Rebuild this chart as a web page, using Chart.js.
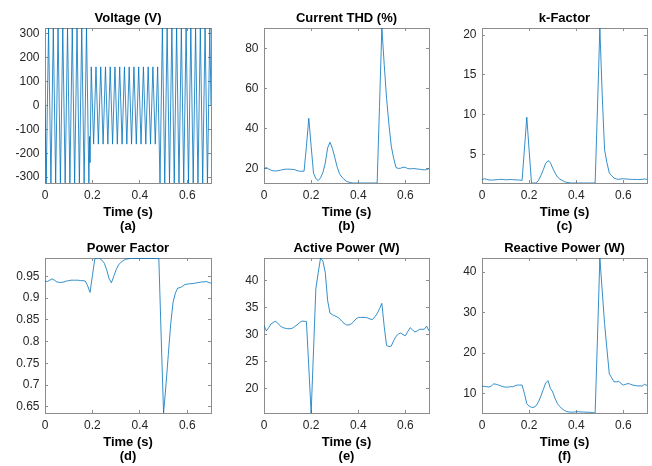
<!DOCTYPE html>
<html>
<head>
<meta charset="utf-8">
<script src="https://cdn.jsdelivr.net/npm/chart.js@4"></script>
<style>
  html, body { margin: 0; padding: 0; background: #fff; }
  #wrap { position: relative; width: 652px; height: 466px; overflow: hidden; background: #fff; }
  #wrap canvas { position: absolute; left: 0; top: 0; }
</style>
</head>
<body>
<div id="wrap"></div>
<script>
// sample times (s) for the measured quantities
const time = [
  0.00, 0.01, 0.02, 0.03, 0.04, 0.05, 0.06, 0.07, 0.08, 0.09,
  0.10, 0.11, 0.12, 0.13, 0.14, 0.15, 0.16, 0.17, 0.18, 0.19,
  0.20, 0.21, 0.22, 0.23, 0.24, 0.25, 0.26, 0.27, 0.28, 0.29,
  0.30, 0.31, 0.32, 0.33, 0.34, 0.35, 0.36, 0.37, 0.38, 0.39,
  0.40, 0.41, 0.42, 0.43, 0.44, 0.45, 0.46, 0.47, 0.48, 0.49,
  0.50, 0.51, 0.52, 0.53, 0.54, 0.55, 0.56, 0.57, 0.58, 0.59,
  0.60, 0.61, 0.62, 0.63, 0.64, 0.65, 0.66, 0.67, 0.68, 0.69,
  0.70
];

const currentThd = [
  19.8, 20.3, 19.6, 19.0, 18.7, 18.6, 18.8, 19.0, 19.3, 19.5,
  19.5, 19.5, 19.4, 19.3, 18.8, 18.5, 18.5, 18.5, 31.0, 45.0,
  31.0, 17.5, 14.8, 13.8, 15.2, 17.9, 22.6, 30.2, 33.0, 30.0,
  25.5, 20.8, 17.3, 15.6, 14.4, 13.4, 13.0, 12.7, 12.6, 12.6,
  12.6, 12.6, 12.6, 12.6, 12.6, 12.6, 12.6, 12.6, 12.6, 51.0,
  90.2, 72.0, 55.0, 42.0, 31.0, 25.0, 20.3, 19.9, 20.0, 20.5,
  20.4, 19.8, 19.7, 19.8, 19.8, 19.6, 19.5, 19.3, 19.2, 19.3,
  19.8
];

const kFactor = [
  1.85, 1.98, 1.90, 1.82, 1.80, 1.82, 1.85, 1.88, 1.90, 1.88,
  1.85, 1.85, 1.88, 1.86, 1.84, 1.83, 1.80, 1.77, 5.7, 9.7,
  5.5, 1.44, 1.44, 1.44, 1.8, 2.4, 3.1, 3.9, 4.25, 4.0,
  3.3, 2.7, 2.2, 1.95, 1.77, 1.6, 1.52, 1.47, 1.44, 1.44,
  1.44, 1.44, 1.44, 1.44, 1.44, 1.44, 1.44, 1.44, 1.44, 11.0,
  20.9, 12.5, 5.6, 4.0, 2.7, 2.35, 2.07, 1.95, 1.90, 1.95,
  1.98, 1.95, 1.92, 1.90, 1.90, 1.88, 1.88, 1.86, 1.90, 1.95,
  1.88
];

const powerFactor = [
  0.939, 0.938, 0.941, 0.944, 0.941, 0.937, 0.936, 0.936, 0.937, 0.939,
  0.940, 0.941, 0.941, 0.941, 0.941, 0.940, 0.940, 0.939, 0.928, 0.913,
  0.952, 0.990, 0.992, 0.991, 0.987, 0.980, 0.965, 0.945, 0.935, 0.950,
  0.965, 0.976, 0.982, 0.986, 0.989, 0.990, 0.991, 0.991, 0.991, 0.991,
  0.991, 0.991, 0.991, 0.991, 0.991, 0.991, 0.991, 0.991, 0.991, 0.810,
  0.636, 0.700, 0.770, 0.840, 0.890, 0.912, 0.923, 0.924, 0.927, 0.931,
  0.932, 0.933, 0.933, 0.934, 0.935, 0.936, 0.937, 0.937, 0.938, 0.936,
  0.934
];

const activePower = [
  31.7, 30.7, 31.3, 32.0, 32.3, 32.5, 32.0, 31.6, 31.3, 31.2,
  31.1, 31.1, 31.2, 31.5, 31.8, 32.2, 32.5, 32.5, 32.4, 24.0,
  15.5, 27.0, 38.5, 41.5, 44.2, 43.6, 41.5, 36.3, 34.0, 33.7,
  33.5, 33.3, 33.0, 32.5, 32.1, 31.8, 31.8, 32.0, 32.4, 32.9,
  33.2, 33.2, 33.2, 33.2, 33.1, 32.9, 32.8, 33.3, 33.9, 34.8,
  35.8, 31.5, 28.0, 27.8, 27.9, 28.9, 29.7, 30.1, 30.3, 30.0,
  29.8, 30.6, 31.3, 30.9, 30.5, 30.7, 31.0, 31.0, 31.0, 31.6,
  30.7
];

const reactivePower = [
  11.8, 11.8, 11.7, 11.6, 11.9, 12.4, 12.3, 12.1, 11.9, 11.7,
  11.6, 11.6, 11.7, 11.7, 11.9, 12.1, 12.1, 12.1, 10.0, 7.5,
  6.9, 6.6, 6.6, 7.0, 8.0, 9.4, 11.0, 12.6, 13.2, 11.3,
  10.4, 8.8, 7.5, 6.8, 6.2, 5.8, 5.55, 5.45, 5.4, 5.45,
  5.5, 5.5, 5.45, 5.45, 5.4, 5.4, 5.35, 5.3, 5.2, 24.0,
  43.5, 35.4, 27.3, 21.0, 14.9, 13.9, 12.9, 12.9, 13.0, 12.5,
  12.1, 12.3, 12.5, 12.3, 12.1, 12.0, 11.9, 11.9, 11.9, 12.3,
  12.0
];

// voltage peaks / troughs (half cycles of the 50 Hz supply)
const voltageTime = [
  0, 0.005, 0.015, 0.025, 0.035, 0.045, 0.055, 0.065, 0.075, 0.085,
  0.095, 0.105, 0.115, 0.125, 0.135, 0.145, 0.155, 0.165, 0.175, 0.185,
  0.188, 0.19,
  0.195, 0.205, 0.215, 0.225, 0.235, 0.245, 0.255, 0.265, 0.275, 0.285,
  0.295, 0.305, 0.315, 0.325, 0.335, 0.345, 0.355, 0.365, 0.375, 0.385,
  0.395, 0.405, 0.415, 0.425, 0.435, 0.445, 0.455, 0.465, 0.475,
  0.485, 0.495, 0.505, 0.515, 0.525, 0.535, 0.545, 0.555, 0.565, 0.575,
  0.585, 0.595, 0.605, 0.615, 0.625, 0.635, 0.645, 0.655, 0.665, 0.675,
  0.685, 0.695, 0.7
];
const voltage = [
  0, -325, 325, -325, 325, -325, 325, -325, 325, -325,
  325, -325, 325, -325, 325, -325, 325, -325, 325, -325,
  -130, -240,
  162, -162, 162, -162, 162, -162, 162, -162, 162, -162,
  162, -162, 162, -162, 162, -162, 162, -162, 162, -162,
  162, -162, 162, -162, 162, -162, 162, -162, 162,
  -325, 325, -325, 325, -325, 325, -325, 325, -325, 325,
  -325, 325, -325, 325, -325, 325, -325, 325, -325, 325,
  -325, 325, 0
];

const titles = ['Voltage (V)', 'Current THD (%)', 'k-Factor', 'Power Factor', 'Active Power (W)', 'Reactive Power (W)'];
const letters = ['(a)', '(b)', '(c)', '(d)', '(e)', '(f)'];
const yStep = [100, 20, 5, 0.05, 5, 10];
const xMax = 0.7;
const xStep = 0.2;

const W = 652, H = 466;
const FONT = '"Liberation Sans", Arial, Helvetica, sans-serif';
const BLUE = '#0072BD';
const AXIS = '#8c8c8c';
const TEXT = '#262626';

// axes boxes in the figure
const boxes = [
  { l: 45, t: 28, r: 211, b: 183 },
  { l: 264, t: 28, r: 429, b: 183 },
  { l: 482, t: 28, r: 647, b: 183 },
  { l: 45, t: 258, r: 211, b: 413 },
  { l: 264, t: 258, r: 429, b: 413 },
  { l: 482, t: 258, r: 647, b: 413 }
];

const fmt = v => String(Math.round(v * 1000) / 1000);

function panel(i, xs, ys) {
  const box = boxes[i];
  const canvas = document.createElement('canvas');
  canvas.width = W;
  canvas.height = H;
  document.getElementById('wrap').appendChild(canvas);

  const yW = 40, xH = 50, titleH = 13 * 1.2 + 2;
  const lo = Math.min(...ys), hi = Math.max(...ys);
  const edge = () => ({
    border: { display: true, color: AXIS, width: 1 },
    grid: { drawOnChartArea: false, drawTicks: true, tickLength: -3, color: AXIS, lineWidth: 1 }
  });
  const tickFont = { family: FONT, size: 12 };

  new Chart(canvas, {
    type: 'line',
    data: {
      datasets: [{
        data: xs.map((x, k) => ({ x: x, y: ys[k] })),
        borderColor: BLUE,
        borderWidth: 0.8,
        pointRadius: 0,
        tension: 0,
        fill: false
      }]
    },
    options: {
      responsive: false,
      animation: false,
      events: [],
      layout: { padding: { left: box.l - yW, right: W - box.r, top: box.t - titleH, bottom: H - box.b - xH } },
      plugins: {
        legend: { display: false },
        tooltip: { enabled: false },
        title: {
          display: true, text: titles[i], fullSize: false, color: '#000',
          font: { family: FONT, size: 13, weight: 'bold', lineHeight: 1.2 },
          padding: { top: 0, bottom: 2 }
        }
      },
      scales: {
        x: Object.assign(edge(), {
          type: 'linear', position: 'bottom', min: 0, max: xMax,
          ticks: { stepSize: xStep, includeBounds: false, padding: 8.5, color: TEXT, font: tickFont, maxRotation: 0, callback: fmt },
          title: { display: true, text: ['Time (s)', letters[i]], color: '#000', padding: 0,
                   font: { family: FONT, size: 13, weight: 'bold', lineHeight: 1.08 } },
          afterFit: s => { s.height = xH; }
        }),
        xTop: Object.assign(edge(), {
          type: 'linear', position: 'top', min: 0, max: xMax,
          ticks: { display: false, stepSize: xStep, includeBounds: false },
          afterFit: s => { s.height = 0; }
        }),
        y: Object.assign(edge(), {
          type: 'linear', position: 'left', min: lo, max: hi,
          ticks: { stepSize: yStep[i], includeBounds: false, padding: 8.5, color: TEXT, font: tickFont, callback: fmt },
          afterFit: s => { s.width = yW; }
        }),
        yRight: Object.assign(edge(), {
          type: 'linear', position: 'right', min: lo, max: hi,
          ticks: { display: false, stepSize: yStep[i], includeBounds: false },
          afterFit: s => { s.width = 0; }
        })
      }
    }
  });
}

panel(0, voltageTime, voltage);
panel(1, time, currentThd);
panel(2, time, kFactor);
panel(3, time, powerFactor);
panel(4, time, activePower);
panel(5, time, reactivePower);
</script>
</body>
</html>
